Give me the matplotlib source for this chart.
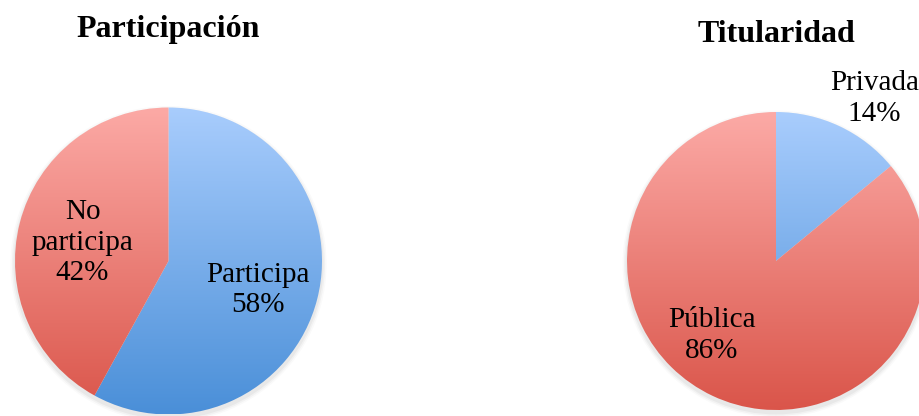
import numpy as np
import matplotlib
matplotlib.use("Agg")
import matplotlib.pyplot as plt
from matplotlib.colors import LinearSegmentedColormap


# Chart data
PART_TITLE = "Participación"
PART_LABELS = ["Participa", "No\nparticipa"]
PART_VALUES = [58, 42]

TIT_TITLE = "Titularidad"
TIT_LABELS = ["Privada", "Pública"]
TIT_VALUES = [14, 86]

# Gradient colours (top, bottom) for the two slice types
BLUE = ("#a9cdfd", "#4a8fd8")
RED = ("#fcaaa6", "#da554a")

# Label positions in pie units (radius = 1)
PART_LABEL_POS = [(0.58, -0.19), (-0.56, 0.12)]
TIT_LABEL_POS = [(0.66, 1.09), (-0.43, -0.50)]

W, H = 920, 416
FONT = ["Liberation Serif", "DejaVu Serif"]


# Make an axes whose [-1, 1] box maps onto a pie of radius r centred at (cx, cy) in pixels
def pie_axes(fig, cx, cy, r):
    ax = fig.add_axes([(cx - r) / W, (H - cy - r) / H, 2 * r / W, 2 * r / H])
    ax.set_xlim(-1, 1)
    ax.set_ylim(-1, 1)
    ax.set_aspect("equal")
    ax.axis("off")
    return ax


# Draw a pie with vertical gradient fills inside each wedge
def gradient_pie(ax, values, labels, label_pos, colors, title, title_y):
    # soft shadow, mostly below the pie
    for k, a in enumerate([0.04, 0.03, 0.02]):
        sh = plt.Circle((0.0, -0.02), 1.0 + 0.01 * (k + 1), color="#000000", alpha=a, lw=0, clip_on=False)
        ax.add_patch(sh)
    wedges, _ = ax.pie(values, startangle=90, counterclock=False, radius=1,
                       wedgeprops=dict(linewidth=0, facecolor="none"))
    grad = np.linspace(1, 0, 256).reshape(-1, 1)
    for w, (top, bottom) in zip(wedges, colors):
        cmap = LinearSegmentedColormap.from_list("g", [bottom, top])
        im = ax.imshow(grad, extent=[-1, 1, -1, 1], origin="upper", cmap=cmap,
                       aspect="auto", zorder=2, clip_on=True)
        im.set_clip_path(w)
    ax.set_xlim(-1, 1)
    ax.set_ylim(-1, 1)
    for lab, val, (x, y) in zip(labels, values, label_pos):
        ax.text(x, y, lab + "\n" + str(val) + "%", ha="center", va="center",
                fontsize=21, family=FONT, color="#000000", zorder=5,
                linespacing=1.22, clip_on=False)
    ax.text(0, title_y, title, ha="center", va="center", fontsize=23,
            fontweight="bold", family=FONT, color="#000000", clip_on=False)


def main():
    fig = plt.figure(figsize=(W / 100, H / 100), dpi=100)
    fig.patch.set_facecolor("white")

    ax1 = pie_axes(fig, 168.5, 261, 153.5)
    gradient_pie(ax1, PART_VALUES, PART_LABELS, PART_LABEL_POS, [BLUE, RED],
                 PART_TITLE, (261 - 30) / 153.5)

    ax2 = pie_axes(fig, 776, 261, 149)
    gradient_pie(ax2, TIT_VALUES, TIT_LABELS, TIT_LABEL_POS, [BLUE, RED],
                 TIT_TITLE, (261 - 35) / 149)

    fig.savefig("out.png", dpi=100, facecolor="white")


if __name__ == "__main__":
    main()
